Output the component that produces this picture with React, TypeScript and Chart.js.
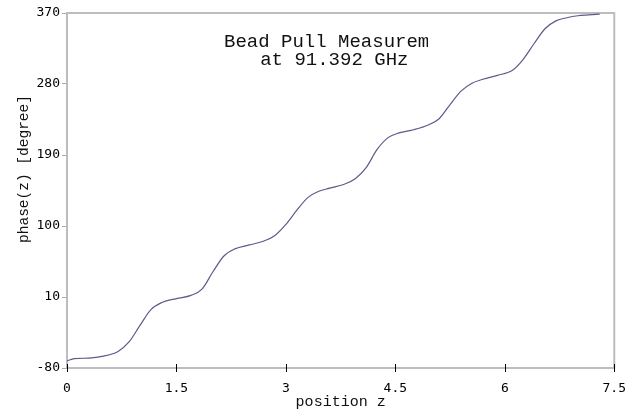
import React, { useEffect, useRef } from "react";
import { Chart, registerables } from "chart.js";

Chart.register(...registerables);

const positions = [0, 0.1, 0.3, 0.5, 0.7, 0.85, 1.0, 1.15, 1.3, 1.5, 1.7, 1.85, 2.0, 2.15, 2.3, 2.5, 2.7, 2.85, 3.0, 3.15, 3.3, 3.45, 3.6, 3.8, 3.95, 4.1, 4.25, 4.4, 4.55, 4.75, 4.95, 5.1, 5.25, 5.4, 5.55, 5.7, 5.9, 6.1, 6.25, 6.4, 6.55, 6.7, 6.85, 7.0, 7.15, 7.3];
const phases = [-71, -68, -67.5, -65, -59, -47, -26, -6, 3, 8, 12, 20, 42, 62, 71, 76, 81, 88, 102, 120, 136, 144, 148, 153, 160, 174, 197, 212, 218, 222, 228, 236, 254, 271, 281, 286, 291, 297, 311, 331, 350, 360, 364, 366.5, 367.5, 368.5];

const titleLines = ["Bead Pull Measurement", "   at 91.392 GHz"];
const xTitle = "position z";
const yTitle = "phase(z) [degree]";
const xMin = 0, xMax = 7.5, xStep = 1.5;
const yMin = -80, yMax = 370, yStep = 90;

const decorPlugin = {
  id: "decor",
  beforeDatasetsDraw(chart: any) {
    const { ctx, chartArea } = chart;
    ctx.save();
    ctx.strokeStyle = "#bdbdbd";
    ctx.lineWidth = 2;
    ctx.strokeRect(chartArea.left, chartArea.top, chartArea.right - chartArea.left, chartArea.bottom - chartArea.top);
    ctx.restore();
  },
  afterDraw(chart: any) {
    const { ctx, chartArea, scales } = chart;
    const xs = scales.x;
    ctx.save();
    ctx.strokeStyle = "#000";
    ctx.lineWidth = 1;
    xs.ticks.forEach((t: any) => {
      const px = Math.round(xs.getPixelForValue(t.value)) + 0.5;
      ctx.beginPath();
      ctx.moveTo(px, chartArea.bottom - 4);
      ctx.lineTo(px, chartArea.bottom + 4);
      ctx.stroke();
    });
    ctx.fillStyle = "#111";
    ctx.font = '19px "Liberation Mono"';
    ctx.textBaseline = "alphabetic";
    ctx.textAlign = "left";
    ctx.save();
    ctx.beginPath();
    ctx.rect(0, 0, 428, 415);
    ctx.clip();
    ctx.fillText(titleLines[0], 224, 47);
    ctx.restore();
    ctx.fillText(titleLines[1], 226, 65);
    ctx.font = '15px "Liberation Mono"';
    ctx.textAlign = "center";
    ctx.fillText(xTitle, (chartArea.left + chartArea.right) / 2, 406);
    ctx.font = '14.5px "Liberation Mono"';
    ctx.save();
    ctx.translate(28, 169);
    ctx.rotate(-Math.PI / 2);
    ctx.fillText(yTitle, 0, 0);
    ctx.restore();
    ctx.restore();
  },
};

export default function App() {
  const ref = useRef<HTMLCanvasElement | null>(null);
  useEffect(() => {
    if (!ref.current) return;
    const data = positions.map((p, i) => ({ x: p, y: phases[i] }));
    const chart = new Chart(ref.current, {
      type: "line",
      data: {
        datasets: [
          {
            data,
            borderColor: "#5b5b8c",
            borderWidth: 1.2,
            pointRadius: 0,
            cubicInterpolationMode: "monotone",
            fill: false,
          },
        ],
      },
      options: {
        responsive: false,
        animation: false,
        layout: { padding: { left: 0, right: 21, top: 13, bottom: 0 } },
        plugins: { legend: { display: false }, tooltip: { enabled: false } },
        scales: {
          x: {
            type: "linear",
            min: xMin,
            max: xMax,
            afterFit: (s: any) => { s.height = 47; },
            grid: { display: false, drawTicks: false },
            border: { display: false },
            ticks: {
              stepSize: xStep,
              padding: 13,
              color: "#000",
              font: { family: "DejaVu Sans Mono", size: 13 },
              maxRotation: 0,
            },
          },
          y: {
            type: "linear",
            min: yMin,
            max: yMax,
            afterFit: (s: any) => { s.width = 67; },
            grid: { drawOnChartArea: false, drawTicks: true, tickLength: 5, color: "#aaaaaa" },
            border: { display: false },
            ticks: {
              stepSize: yStep,
              padding: 2,
              color: "#000",
              font: { family: "DejaVu Sans Mono", size: 13 },
            },
          },
        },
      },
      plugins: [decorPlugin],
    } as any);
    return () => chart.destroy();
  }, []);
  return (
    <div style={{ position: "absolute", left: 0, top: 0, width: 639, height: 415, background: "#fff" }}>
      <canvas ref={ref} width={639} height={415} />
    </div>
  );
}
